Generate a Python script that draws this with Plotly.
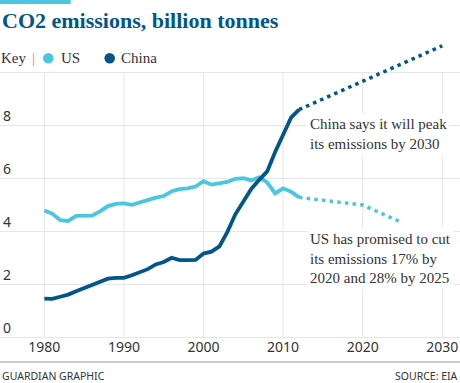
import plotly.graph_objects as go

# ---------------- data ----------------
years_hist = list(range(1980, 2013))
us_hist = [4.77, 4.65, 4.41, 4.38, 4.57, 4.58, 4.58, 4.74, 4.94, 5.02,
           5.04, 4.99, 5.08, 5.18, 5.26, 5.32, 5.50, 5.58, 5.61, 5.68,
           5.88, 5.75, 5.80, 5.85, 5.97, 5.99, 5.91, 6.02, 5.83, 5.42,
           5.61, 5.48, 5.27]
china_hist = [1.45, 1.44, 1.52, 1.60, 1.73, 1.85, 1.95, 2.07, 2.20, 2.23,
              2.23, 2.33, 2.43, 2.56, 2.74, 2.83, 2.99, 2.90, 2.90, 2.91,
              3.15, 3.22, 3.42, 3.97, 4.63, 5.14, 5.59, 5.93, 6.25, 6.98,
              7.66, 8.28, 8.58]
us_proj_years = [2012, 2020, 2025]
us_proj = [5.27, 4.98, 4.31]
china_proj_years = [2012, 2030]
china_proj = [8.58, 10.99]

x_ticks = [1980, 1990, 2000, 2010, 2020, 2030]
y_ticks = [0, 2, 4, 6, 8, 10]
y_tick_text = ["0", "2", "4", "6", "8", ""]

# ---------------- style ----------------
US_C = "#4bc6df"
CN_C = "#005689"
GRID = "#e3e7eb"
TXT = "#333333"
SERIF = "Liberation Serif"
SANS = "Noto Sans"

W, H = 460, 383
M_T, M_B = 40, 46
PLOT_H = H - M_T - M_B          # 297 px
PX_PER_UNIT = 26.5
Y_MAX = PLOT_H / PX_PER_UNIT
PX_PER_YEAR = 7.96
X0 = 1980 - 44.3 / PX_PER_YEAR
X1 = X0 + W / PX_PER_YEAR


def py(pix):
    """pixel row -> paper y"""
    return (H - M_B - pix) / PLOT_H


def px(pix):
    return pix / W


fig = go.Figure()

fig.add_trace(go.Scatter(x=us_proj_years, y=us_proj, mode="lines",
                         line=dict(color=US_C, width=3.5, dash="3.5px,4.2px"),
                         hoverinfo="skip"))
fig.add_trace(go.Scatter(x=china_proj_years, y=china_proj, mode="lines",
                         line=dict(color=CN_C, width=3.5, dash="3.5px,4.2px"),
                         hoverinfo="skip"))
fig.add_trace(go.Scatter(x=years_hist, y=us_hist, mode="lines",
                         line=dict(color=US_C, width=3.8), name="US"))
fig.add_trace(go.Scatter(x=years_hist, y=china_hist, mode="lines",
                         line=dict(color=CN_C, width=3.8), name="China"))

shapes = []
# vertical gridlines (stop at the top gridline)
for xv in x_ticks:
    shapes.append(dict(type="line", xref="x", yref="y", x0=xv, x1=xv,
                       y0=0, y1=y_ticks[-1], layer="below",
                       line=dict(color=GRID, width=1)))
# top accent bar
shapes.append(dict(type="rect", xref="paper", yref="paper",
                   x0=0, x1=px(70.7), y0=py(4), y1=py(0),
                   fillcolor=US_C, line=dict(width=0)))
# footer rule
shapes.append(dict(type="line", xref="paper", yref="paper",
                   x0=0, x1=1, y0=py(362), y1=py(362),
                   line=dict(color="#9a9a9a", width=1)))
# legend dots
for cx, col in [(48.3, US_C), (109.7, CN_C)]:
    shapes.append(dict(type="circle", xref="paper", yref="paper",
                       xsizemode="pixel", ysizemode="pixel",
                       xanchor=px(cx), yanchor=py(58.3),
                       x0=-5.3, x1=5.3, y0=-5.3, y1=5.3,
                       fillcolor=col, line=dict(width=0)))

annotations = [
    dict(text="<b>CO2 emissions, billion tonnes</b>", xref="paper", yref="paper",
         x=0, y=py(20), xanchor="left", yanchor="middle", showarrow=False,
         font=dict(family=SERIF, size=22, color=CN_C)),
    dict(text="Key", xref="paper", yref="paper", x=px(-1), y=py(58),
         xanchor="left", yanchor="middle", showarrow=False,
         font=dict(family=SERIF, size=15, color=TXT)),
    dict(text="|", xref="paper", yref="paper", x=px(29.5), y=py(58),
         xanchor="left", yanchor="middle", showarrow=False,
         font=dict(family=SERIF, size=15, color="#999999")),
    dict(text="US", xref="paper", yref="paper", x=px(58.5), y=py(58),
         xanchor="left", yanchor="middle", showarrow=False,
         font=dict(family=SERIF, size=15, color=TXT)),
    dict(text="China", xref="paper", yref="paper", x=px(118.5), y=py(58),
         xanchor="left", yanchor="middle", showarrow=False,
         font=dict(family=SERIF, size=15, color=TXT)),
    dict(text="China says it will peak<br>its emissions by 2030",
         xref="paper", yref="paper", x=px(307), y=py(134),
         xanchor="left", yanchor="middle", align="left", showarrow=False,
         bgcolor="white", borderpad=2,
         font=dict(family=SERIF, size=15, color=TXT)),
    dict(text="US has promised to cut<br>its emissions 17% by<br>2020 and 28% by 2025",
         xref="paper", yref="paper", x=px(307), y=py(258.5),
         xanchor="left", yanchor="middle", align="left", showarrow=False,
         bgcolor="white", borderpad=2,
         font=dict(family=SERIF, size=15, color=TXT)),
    dict(text="GUARDIAN GRAPHIC", xref="paper", yref="paper", x=0, y=py(376),
         xanchor="left", yanchor="middle", showarrow=False,
         font=dict(family=SANS, size=10.5, color=TXT)),
    dict(text="SOURCE: EIA", xref="paper", yref="paper", x=1, y=py(376),
         xanchor="right", yanchor="middle", showarrow=False,
         font=dict(family=SANS, size=10.5, color=TXT)),
]

fig.update_layout(
    width=W, height=H,
    margin=dict(l=0, r=0, t=M_T, b=M_B, pad=0),
    paper_bgcolor="white", plot_bgcolor="white",
    showlegend=False,
    shapes=shapes, annotations=annotations,
    xaxis=dict(range=[X0, X1], tickvals=x_ticks, showgrid=False, zeroline=False,
               showline=False, ticks="", fixedrange=True,
               tickfont=dict(family=SANS, size=14, color=TXT)),
    yaxis=dict(range=[0, Y_MAX], tickvals=y_ticks, ticktext=y_tick_text,
               showgrid=True, gridcolor=GRID, gridwidth=1,
               zeroline=True, zerolinecolor=GRID, zerolinewidth=1,
               showline=False, ticks="", ticklabelposition="inside",
               ticklabelshift=-9, ticklabelstandoff=0, fixedrange=True,
               tickfont=dict(family=SANS, size=14, color=TXT)),
)

fig.write_html(
    "out.html",
    config={"displayModeBar": False},
    post_script="document.body.style.margin='0';document.body.style.overflow='hidden';",
)
